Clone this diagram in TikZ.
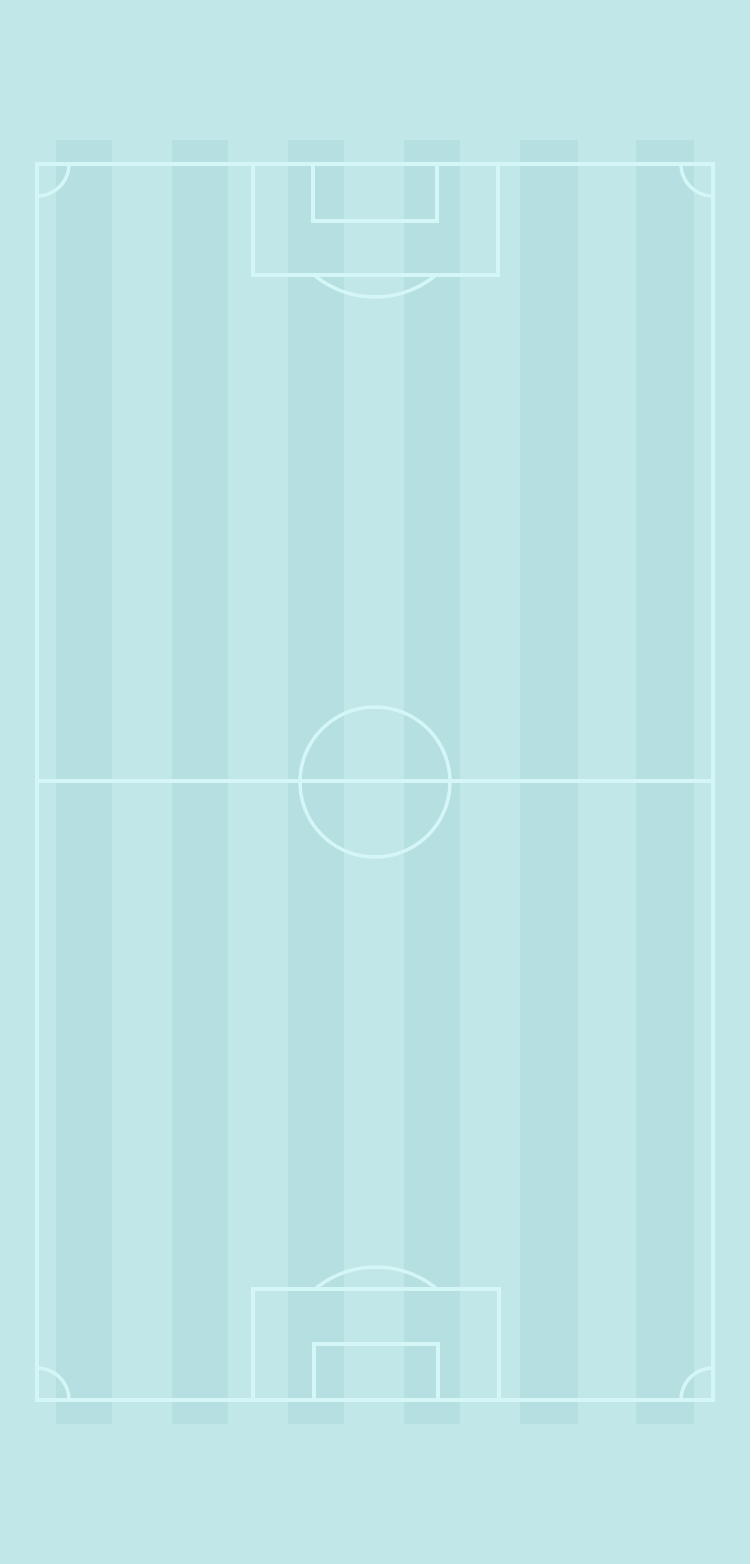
\documentclass[tikz,border=0pt]{standalone}
\definecolor{grassbg}{HTML}{C2E7E8}
\definecolor{grassstripe}{HTML}{B5DFE1}
\definecolor{pitchline}{HTML}{D4F6F6}
\tikzset{
  stripe/.style={fill=grassstripe, draw=none},
  pline/.style={draw=pitchline, line width=3.5pt},
}
\begin{document}
\begin{tikzpicture}[x=1pt,y=-1pt]
  % background
  \fill[grassbg] (0,0) rectangle (750,1564);
  \useasboundingbox (0,0) rectangle (750,1564);
  % mowing stripes
  \foreach \sx/\ex in {56/112,172/228,288/344,404/460,520/578,636/694}
    \path[stripe] (\sx,140) rectangle (\ex,1424);
  % outer boundary
  \draw[pline] (37,164) rectangle (713,1400);
  % halfway line
  \draw[pline] (37,781) -- (713,781);
  % centre circle
  \draw[pline] (375,782) circle[radius=75];
  % top penalty area and goal area
  \draw[pline] (253,164) rectangle (498,275);
  \draw[pline] (313,164) rectangle (437,221);
  \begin{scope}
    \clip (200,275) rectangle (550,330);
    \draw[pline] (375,201.4) circle[radius=95.6];
  \end{scope}
  % bottom penalty area and goal area
  \draw[pline] (253,1289) rectangle (499,1400);
  \draw[pline] (314,1344) rectangle (438,1400);
  \begin{scope}
    \clip (200,1230) rectangle (550,1289);
    \draw[pline] (376,1362.6) circle[radius=95.6];
  \end{scope}
  % corner arcs
  \begin{scope}
    \clip (37,164) rectangle (713,1400);
    \draw[pline] (37,164) circle[radius=32];
    \draw[pline] (713,164) circle[radius=32];
    \draw[pline] (37,1400) circle[radius=32];
    \draw[pline] (713,1400) circle[radius=32];
  \end{scope}
\end{tikzpicture}
\end{document}
